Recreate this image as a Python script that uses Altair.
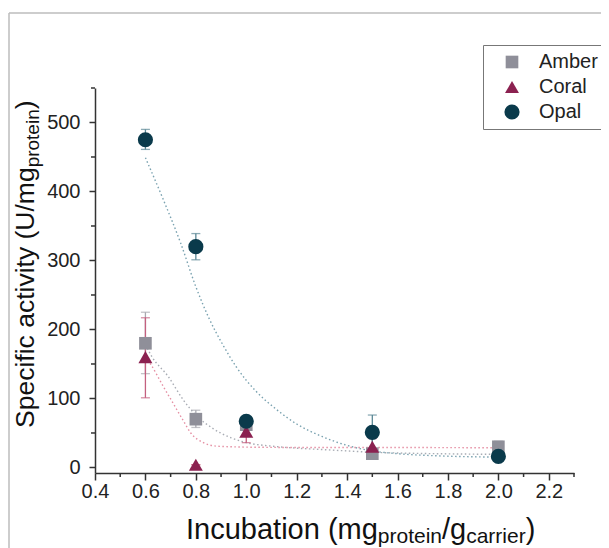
import altair as alt
import pandas as pd

FONT = "Liberation Sans"

series = ["Amber", "Coral", "Opal"]

# measured points (mean, lower and upper error limits)
x_amber = [0.6, 0.8, 1.0, 1.5, 2.0]
y_amber = [180, 70, 62, 20, 30]
lo_amber = [136, 58, 56, 15, 22]
hi_amber = [225, 83, 68, 25, 38]

x_coral = [0.6, 0.8, 1.0, 1.5]
y_coral = [160, 4, 52, 30]
lo_coral = [101, 4, 36, 18]
hi_coral = [217, 4, 65, 42]

x_opal = [0.6, 0.8, 1.0, 1.5, 2.0]
y_opal = [475, 320, 67, 51, 16]
lo_opal = [461, 301, 61, 27, 13]
hi_opal = [490, 339, 73, 76, 19]

# fitted curves
fx_amber = [0.60, 0.625, 0.69, 0.75, 0.80, 0.87, 0.94, 1.00, 1.10, 1.20, 1.30, 1.40, 1.50, 1.60, 1.75, 2.00]
fy_amber = [178, 161, 132, 98, 76, 56, 43, 36, 31, 28, 26, 24, 22, 21, 20, 19]

fx_coral = [0.60, 0.62, 0.67, 0.71, 0.75, 0.78, 0.83, 0.88, 0.94, 1.00, 1.20, 1.50, 2.00]
fy_coral = [160, 150, 118, 93, 68, 50, 36, 31, 30, 29.5, 29, 29, 28.5]

fx_opal = [0.60, 0.67, 0.74, 0.80, 0.85, 0.91, 0.96, 1.04, 1.12, 1.20, 1.30, 1.40, 1.50, 1.60, 1.75, 1.90, 2.00]
fy_opal = [449, 389, 325, 262, 218, 176, 146, 110, 84, 63, 45, 32, 24, 20, 17, 15.5, 15]

x_ticks = [0.4, 0.6, 0.8, 1.0, 1.2, 1.4, 1.6, 1.8, 2.0, 2.2]
x_minor = [0.5, 0.7, 0.9, 1.1, 1.3, 1.5, 1.7, 1.9, 2.1, 2.3]
y_ticks = [0, 100, 200, 300, 400, 500]
y_minor = [50, 150, 250, 350, 450, 550]

marker_colors = ["#8f8f99", "#8b2150", "#0a3a4b"]
err_colors = ["#a9a9b0", "#c4607f", "#5b8896"]
fit_colors = ["#a8acb4", "#e58fa3", "#7aa2b0"]
shapes = ["square", "triangle-up", "circle"]
sizes = [160, 230, 135]

W, H = 479, 385

pts = pd.concat([
    pd.DataFrame({"series": "Amber", "x": x_amber, "y": y_amber, "lo": lo_amber, "hi": hi_amber}),
    pd.DataFrame({"series": "Coral", "x": x_coral, "y": y_coral, "lo": lo_coral, "hi": hi_coral}),
    pd.DataFrame({"series": "Opal", "x": x_opal, "y": y_opal, "lo": lo_opal, "hi": hi_opal}),
], ignore_index=True)

fits = pd.concat([
    pd.DataFrame({"series": "Amber", "x": fx_amber, "y": fy_amber}),
    pd.DataFrame({"series": "Coral", "x": fx_coral, "y": fy_coral}),
    pd.DataFrame({"series": "Opal", "x": fx_opal, "y": fy_opal}),
], ignore_index=True)

xscale = alt.Scale(domain=[0.4, 2.3], nice=False, zero=False)
yscale = alt.Scale(domain=[-8, 550], nice=False, zero=False)

xaxis = alt.Axis(values=x_ticks, format=".1f", title=None, grid=False,
                 labelFont=FONT, labelFontSize=20, labelColor="#222", labelPadding=1,
                 tickSize=7, tickWidth=1.5, tickColor="#333",
                 domainColor="#333", domainWidth=1.5, labelFlush=False)
yaxis = alt.Axis(values=y_ticks, title=None, grid=False,
                 labelFont=FONT, labelFontSize=20, labelColor="#222", labelPadding=9,
                 tickSize=6, tickWidth=1.5, tickColor="#333",
                 domainColor="#333", domainWidth=1.5, labelFlush=False)

legend = alt.Legend(orient="none", legendX=388, legendY=-43, title=None,
                    labelFont=FONT, labelFontSize=20, labelColor="#222",
                    symbolSize=115, symbolStrokeWidth=0, padding=7,
                    symbolOffset=12, labelOffset=17, rowPadding=5,
                    strokeColor="#777", fillColor="white")

base_layers = []
for s, fc in zip(series, fit_colors):
    fd = fits[fits.series == s]
    base_layers.append(
        alt.Chart(fd).mark_line(strokeDash=[1.5, 2.5], strokeWidth=1.4, color=fc,
                                interpolate="monotone").encode(
            x=alt.X("x:Q", scale=xscale, axis=xaxis),
            y=alt.Y("y:Q", scale=yscale, axis=yaxis),
        )
    )
for s, ec in zip(series, err_colors):
    pd_s = pts[pts.series == s]
    base_layers.append(
        alt.Chart(pd_s).mark_rule(strokeWidth=1.3, color=ec).encode(
            x=alt.X("x:Q", scale=xscale), y=alt.Y("lo:Q", scale=yscale), y2="hi:Q")
    )
    base_layers.append(
        alt.Chart(pd_s).mark_tick(orient="horizontal", size=9, thickness=1.3, color=ec).encode(
            x=alt.X("x:Q", scale=xscale), y=alt.Y("lo:Q", scale=yscale))
    )
    base_layers.append(
        alt.Chart(pd_s).mark_tick(orient="horizontal", size=9, thickness=1.3, color=ec).encode(
            x=alt.X("x:Q", scale=xscale), y=alt.Y("hi:Q", scale=yscale))
    )

points = alt.Chart(pts).mark_point(filled=True, opacity=1, strokeWidth=0).encode(
    x=alt.X("x:Q", scale=xscale),
    y=alt.Y("y:Q", scale=yscale),
    color=alt.Color("series:N", scale=alt.Scale(domain=series, range=marker_colors), legend=legend),
    shape=alt.Shape("series:N", scale=alt.Scale(domain=series, range=shapes), legend=legend),
    size=alt.Size("series:N", scale=alt.Scale(domain=series, range=sizes), legend=None),
)

xminor = alt.Chart(pd.DataFrame({"v": x_minor})).mark_rule(color="#333", strokeWidth=1.5).encode(
    x=alt.X("v:Q", scale=xscale), y=alt.value(H), y2=alt.value(H + 4))
yminor = alt.Chart(pd.DataFrame({"v": y_minor})).mark_rule(color="#333", strokeWidth=1.5).encode(
    y=alt.Y("v:Q", scale=yscale), x=alt.value(0), x2=alt.value(-4))

one = pd.DataFrame({"a": [0]})
frame_top = alt.Chart(one).mark_rule(color="#bdbdbd", strokeWidth=1.5).encode(
    x=alt.value(-86), x2=alt.value(W + 40), y=alt.value(-75))
frame_left = alt.Chart(one).mark_rule(color="#bdbdbd", strokeWidth=1.5).encode(
    x=alt.value(-86), y=alt.value(-75), y2=alt.value(H + 90))


def txt(t, x, y, size, angle=0):
    return alt.Chart(one).mark_text(text=t, font=FONT, fontSize=size, color="#111",
                                    align="left", baseline="alphabetic", angle=angle).encode(
        x=alt.value(x), y=alt.value(y))


# x-axis title with subscripts
XM, XS = 29, 21
XB, XSB = 451, 455
xt = [
    txt("Incubation (mg", 91, XB, XM),
    txt("protein", 91 + 6.614 * XM, XSB, XS),
    txt("/g", 91 + 6.614 * XM + 3.057 * XS, XB, XM),
    txt("carrier", 91 + 7.448 * XM + 3.057 * XS, XSB, XS),
    txt(")", 91 + 7.448 * XM + 5.890 * XS, XB, XM),
]
# y-axis title with subscript
YM, YS = 26.5, 19
y0 = 340
yt = [
    txt("Specific activity (U/mg", -61, y0, YM, 270),
    txt("protein", -56, y0 - 9.835 * YM, YS, 270),
    txt(")", -61, y0 - 9.835 * YM - 3.057 * YS, YM, 270),
]

chart = alt.layer(
    frame_top, frame_left, *base_layers, points, xminor, yminor, *xt, *yt
).properties(
    width=W, height=H,
    padding={"left": 87, "top": 80, "right": 27, "bottom": 75},
    autosize=alt.AutoSizeParams(type="none"),
).configure_view(stroke=None)

chart.save("out.html", embed_options={"renderer": "svg", "actions": False})
